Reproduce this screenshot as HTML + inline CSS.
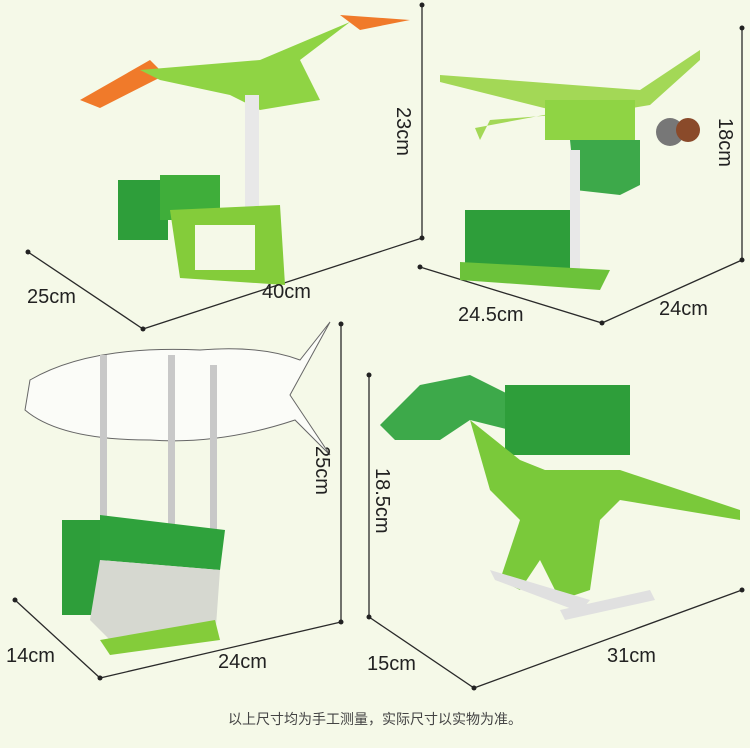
<!DOCTYPE html>
<html><head><meta charset="utf-8"><style>
html,body{margin:0;padding:0}
body{width:750px;height:748px;background:#f5f9e8;position:relative;overflow:hidden;font-family:"Liberation Sans","Noto Sans CJK SC",sans-serif}
svg{position:absolute;left:0;top:0}
</style></head><body>
<svg width="750" height="748" viewBox="0 0 750 748">
<g stroke="#2a2a2a" stroke-width="1.3" fill="none">
<polyline points="28,252 143,329 422,238"/>
<line x1="422" y1="5" x2="422" y2="238"/>
<polyline points="420,267 602,323 742,260"/>
<line x1="742" y1="28" x2="742" y2="260"/>
<polyline points="15,600 100,678 341,622"/>
<line x1="341" y1="324" x2="341" y2="622"/>
<polyline points="369,617 474,688 742,590"/>
<line x1="369" y1="375" x2="369" y2="617"/>
</g>
<g fill="#222">
<circle cx="28" cy="252" r="2.5"/><circle cx="143" cy="329" r="2.5"/><circle cx="422" cy="238" r="2.5"/><circle cx="422" cy="5" r="2.5"/>
<circle cx="420" cy="267" r="2.5"/><circle cx="602" cy="323" r="2.5"/><circle cx="742" cy="260" r="2.5"/><circle cx="742" cy="28" r="2.5"/>
<circle cx="15" cy="600" r="2.5"/><circle cx="100" cy="678" r="2.5"/><circle cx="341" cy="622" r="2.5"/><circle cx="341" cy="324" r="2.5"/>
<circle cx="369" cy="617" r="2.5"/><circle cx="474" cy="688" r="2.5"/><circle cx="742" cy="590" r="2.5"/><circle cx="369" cy="375" r="2.5"/>
</g>
<!-- bird -->
<polygon points="80,100 150,60 165,75 100,108" fill="#f07a2a"/>
<polygon points="340,15 410,20 360,30" fill="#f07a2a"/>
<polygon points="140,70 260,60 350,22 300,60 320,100 260,110 230,95 160,80" fill="#8fd444"/>
<rect x="245" y="95" width="14" height="120" fill="#e8e8e8"/>
<rect x="118" y="180" width="50" height="60" fill="#2e9e3a"/>
<rect x="160" y="175" width="60" height="45" fill="#3fae3a"/>
<polygon points="170,210 280,205 285,285 180,278" fill="#84cc3a"/>
<rect x="195" y="225" width="60" height="45" fill="#f5f9e8"/>
<!-- dragonfly -->
<polygon points="440,75 640,90 700,50 700,60 650,105 620,110 490,120 480,140 475,128 560,112 440,82" fill="#a3d856"/>
<rect x="545" y="100" width="90" height="40" fill="#8fd444"/>
<polygon points="570,140 640,140 640,185 620,195 575,190" fill="#3da94a"/>
<circle cx="670" cy="132" r="14" fill="#777"/><circle cx="688" cy="130" r="12" fill="#8a4a2a"/>
<rect x="570" y="150" width="10" height="130" fill="#e8e8e8"/>
<rect x="465" y="210" width="105" height="60" fill="#2e9e3a"/>
<polygon points="460,262 610,270 600,290 460,280" fill="#6cc23a"/>
<!-- fish -->
<path d="M30,380 Q90,345 200,350 Q260,345 300,360 L330,322 L290,395 L330,455 L295,420 Q220,445 150,440 Q60,440 25,410 Z" fill="#fbfcf8" stroke="#666" stroke-width="1"/>
<g fill="#c8c8c8"><rect x="100" y="355" width="7" height="180"/><rect x="168" y="355" width="7" height="180"/><rect x="210" y="365" width="7" height="175"/></g>
<rect x="62" y="520" width="45" height="95" fill="#2e9e3a"/>
<polygon points="100,515 225,530 220,570 100,560" fill="#2fa23c"/>
<polygon points="100,560 220,570 215,640 120,650 90,620" fill="#d6d8d0"/>
<polygon points="100,640 215,620 220,640 110,655" fill="#84cc3a"/>
<!-- dinosaur -->
<polygon points="380,425 420,385 470,375 520,400 510,430 470,420 440,440 395,440" fill="#3da94a"/>
<rect x="505" y="385" width="125" height="70" fill="#2e9e3a"/>
<polygon points="470,420 520,460 545,470 620,470 740,510 740,520 620,500 600,520 590,590 560,600 540,560 520,590 500,580 520,520 490,490" fill="#7ac93a"/>
<polygon points="490,570 590,600 580,612 495,580" fill="#e0e0e0"/>
<polygon points="560,610 650,590 655,600 565,620" fill="#e0e0e0"/>
</svg>
<div style="position:absolute;left:27px;top:286px;font-size:20px;color:#222">25cm</div>
<div style="position:absolute;left:262px;top:281px;font-size:20px;color:#222">40cm</div>
<div style="position:absolute;left:381px;top:107px;font-size:20px;color:#222;transform:rotate(90deg);transform-origin:left top;left:414px">23cm</div>
<div style="position:absolute;left:458px;top:304px;font-size:20px;color:#222">24.5cm</div>
<div style="position:absolute;left:659px;top:298px;font-size:20px;color:#222">24cm</div>
<div style="position:absolute;left:736px;top:118px;font-size:20px;color:#222;transform:rotate(90deg);transform-origin:left top">18cm</div>
<div style="position:absolute;left:6px;top:645px;font-size:20px;color:#222">14cm</div>
<div style="position:absolute;left:218px;top:651px;font-size:20px;color:#222">24cm</div>
<div style="position:absolute;left:333px;top:446px;font-size:20px;color:#222;transform:rotate(90deg);transform-origin:left top">25cm</div>
<div style="position:absolute;left:393px;top:468px;font-size:20px;color:#222;transform:rotate(90deg);transform-origin:left top">18.5cm</div>
<div style="position:absolute;left:367px;top:653px;font-size:20px;color:#222">15cm</div>
<div style="position:absolute;left:607px;top:645px;font-size:20px;color:#222">31cm</div>
<div style="position:absolute;left:0;width:750px;text-align:center;top:709px;font-size:14px;color:#444">以上尺寸均为手工测量，实际尺寸以实物为准。</div>
</body></html>
